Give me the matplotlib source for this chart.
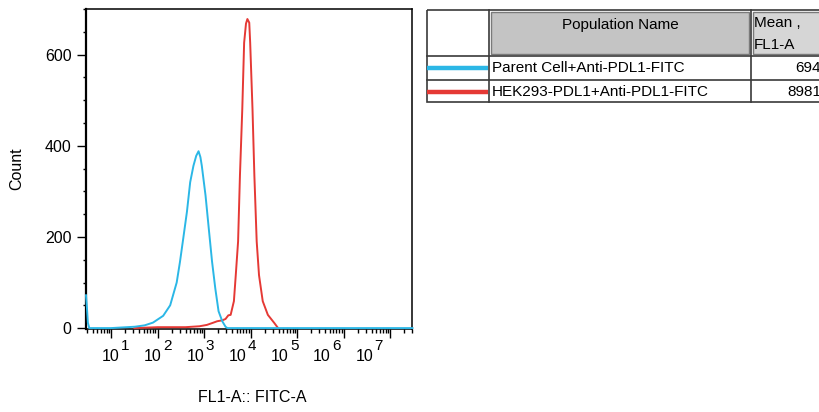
import matplotlib.pyplot as plt
import matplotlib.transforms as mtransforms
from matplotlib.ticker import LogLocator, MultipleLocator, NullFormatter
import numpy as np

plt.rcParams['font.family'] = ['Liberation Sans', 'DejaVu Sans']

# histogram traces, x given as log10(FL1-A)
cyan_logx = [0.46, 0.48, 0.50, 0.53, 1.00, 1.51, 1.72, 1.90, 2.12, 2.27, 2.41, 2.48,
             2.55, 2.63, 2.70, 2.77, 2.83, 2.88, 2.92, 2.95, 3.03, 3.10, 3.17, 3.24,
             3.31, 3.39, 3.46, 3.50, 5.00, 7.48]
cyan_count = [72, 45, 12, 0, 0, 3, 6, 12, 27, 50, 100, 145,
              196, 255, 320, 356, 378, 388, 375, 356, 291, 218, 146, 87,
              37, 15, 3, 0, 0, 0]

red_logx = [1.50, 2.00, 2.60, 2.90, 3.06, 3.20, 3.28, 3.39, 3.46, 3.52, 3.57, 3.64,
            3.68, 3.73, 3.77, 3.82, 3.86, 3.90, 3.93, 3.97, 3.99, 4.04, 4.08, 4.13,
            4.18, 4.26, 4.37, 4.51, 4.59]
red_count = [0, 2, 2, 4, 7, 12, 15, 17, 20, 28, 29, 59,
             116, 190, 335, 480, 626, 668, 678, 670, 626, 480, 335, 190,
             116, 59, 29, 11, 0]

decades = [1, 2, 3, 4, 5, 6, 7]
populations = ['Parent Cell+Anti-PDL1-FITC', 'HEK293-PDL1+Anti-PDL1-FITC']
means = ['694', '8981']
pop_colors = ['#2bb7e6', '#e53935']

fig = plt.figure(figsize=(8.2, 4.12), dpi=100)
ax = fig.add_axes([86 / 820, 1 - 329 / 412, 326.5 / 820, 320 / 412])

ax.plot(10 ** np.array(red_logx), red_count, color=pop_colors[1], lw=1.4, clip_on=False, zorder=3)
ax.plot(10 ** np.array(cyan_logx), cyan_count, color=pop_colors[0], lw=1.4, clip_on=False, zorder=4)

ax.set_xscale('log')
ax.set_xlim(10 ** 0.46, 10 ** 7.48)
ax.set_ylim(-2, 700)

ax.xaxis.set_major_locator(LogLocator(base=10, numticks=20))
ax.xaxis.set_minor_locator(LogLocator(base=10, subs=np.arange(2, 10), numticks=20))
ax.xaxis.set_major_formatter(NullFormatter())
ax.xaxis.set_minor_formatter(NullFormatter())
ax.yaxis.set_major_locator(MultipleLocator(200))
ax.yaxis.set_minor_locator(MultipleLocator(50))

ax.tick_params(axis='y', which='major', length=6.5, width=1, labelsize=11.5, pad=4)
ax.tick_params(axis='y', which='minor', length=2.5, width=1)
ax.tick_params(axis='x', which='major', length=6.5, width=1)
ax.tick_params(axis='x', which='minor', length=3, width=1)

for side in ['top', 'right', 'bottom']:
    ax.spines[side].set_linewidth(1.1)
ax.spines['left'].set_linewidth(1.6)

# FlowJo style decade labels: "10" with a raised exponent, drifting left of the ticks
trans = mtransforms.blended_transform_factory(ax.transData, ax.transAxes)
for k in decades:
    dx = (-0.5 - (k - 1) * 4.25) * 0.72
    ax.annotate('10', xy=(10 ** k, 0), xycoords=trans, xytext=(dx, -20),
                textcoords='offset points', ha='center', va='center', fontsize=11.5,
                annotation_clip=False)
    ax.annotate(str(k), xy=(10 ** k, 0), xycoords=trans, xytext=(dx + 14.5 * 0.72, -12),
                textcoords='offset points', ha='center', va='center', fontsize=11,
                annotation_clip=False)

ax.set_ylabel('Count', fontsize=11.5)
ax.yaxis.set_label_coords(-0.19, 0.5)
ax.set_xlabel('FL1-A:: FITC-A', fontsize=11.5)
ax.xaxis.set_label_coords(0.509, -0.19)

# population table on the right
tax = fig.add_axes([427 / 820, 1 - 104 / 412, 393 / 820, 95 / 412])
tax.set_xlim(427, 820)
tax.set_ylim(104, 9)
tax.axis('off')

tax.add_patch(plt.Rectangle((491, 12), 258, 41.5, facecolor='#c4c4c4', edgecolor='#7a7a7a', lw=1))
tax.add_patch(plt.Rectangle((753, 12), 70, 41.5, facecolor='#d6d6d6', edgecolor='#7a7a7a', lw=1,
                            clip_on=False))
tax.add_patch(plt.Rectangle((427, 10), 400, 92, facecolor='none', edgecolor='#3a3a3a', lw=1.2,
                            clip_on=False))
for yy in [55.5, 79.5]:
    tax.plot([427, 822], [yy, yy], color='#3a3a3a', lw=1.2, clip_on=False)
for xx in [489, 751]:
    tax.plot([xx, xx], [10, 102], color='#3a3a3a', lw=1.2)

tax.text(620, 25, 'Population Name', ha='center', va='center', fontsize=11)
tax.text(754, 23, 'Mean ,', ha='left', va='center', fontsize=11)
tax.text(754, 45, 'FL1-A', ha='left', va='center', fontsize=11)

row_y = [68, 91.5]
for name, val, col, yy in zip(populations, means, pop_colors, row_y):
    tax.plot([427.5, 488], [yy, yy], color=col, lw=3.2, solid_capstyle='butt')
    tax.text(492, yy, name, ha='left', va='center', fontsize=11)
    tax.text(821, yy, val, ha='right', va='center', fontsize=11, clip_on=False)

fig.savefig('out.png', dpi=100)
